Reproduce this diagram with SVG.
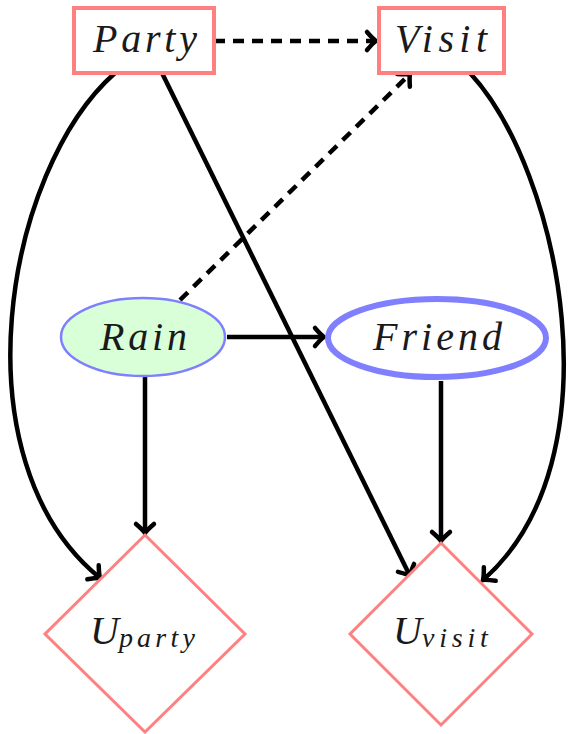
<svg xmlns="http://www.w3.org/2000/svg" width="569" height="734" viewBox="0 0 569 734">
<style>
.t{font-family:"Liberation Serif","DejaVu Serif",serif;font-style:italic;font-size:40px;fill:#1a1a1a}
.s{font-family:"Liberation Serif","DejaVu Serif",serif;font-style:italic;font-size:28px;fill:#1a1a1a}
.box{fill:#fff;stroke:#ff8080;stroke-width:4}
.dia{fill:#fff;stroke:#ff8080;stroke-width:3}
.e{stroke:#000;stroke-width:4.5;fill:none;marker-end:url(#ah)}
.d{stroke-dasharray:11 8}
</style>
<defs>
<marker id="ah" markerUnits="userSpaceOnUse" markerWidth="30" markerHeight="30" refX="0" refY="0" viewBox="-15 -15 30 30" orient="auto" overflow="visible">
<path d="M -9 -9 Q -3 -2 0 0 Q -3 2 -9 9" fill="none" stroke="#000" stroke-width="4.5" stroke-linecap="round"/>
</marker>
</defs>
<g id="edges">
<path class="e d" d="M 214 41 L 376 41"/>
<path class="e d" d="M 180 300 L 410 74"/>
<path class="e" d="M 115 73 C 5 170 -45 460 100 578"/>
<path class="e" d="M 162 73 L 410 576"/>
<path class="e" d="M 470 73 C 560 170 620 460 483 580"/>
<path class="e" d="M 227 337 L 324 337"/>
<path class="e" d="M 145 377 L 145 533"/>
<path class="e" d="M 441 381 L 441 541"/>
</g>
<g id="party">
<rect class="box" x="74" y="8" width="140" height="65"/>
<text class="t" x="93" y="52" textLength="104" lengthAdjust="spacing">Party</text>
</g>
<g id="visit">
<rect class="box" x="379" y="8" width="125" height="65"/>
<text class="t" x="395" y="52" textLength="92" lengthAdjust="spacing">Visit</text>
</g>
<g id="rain">
<ellipse cx="143" cy="337" rx="82" ry="39" fill="#d9ffd9" stroke="#8080ff" stroke-width="2.5"/>
<text class="t" x="100" y="350" textLength="87" lengthAdjust="spacing">Rain</text>
</g>
<g id="friend">
<ellipse cx="437" cy="338" rx="109" ry="39" fill="#fff" stroke="#8080ff" stroke-width="6"/>
<text class="t" x="373" y="350" textLength="129" lengthAdjust="spacing">Friend</text>
</g>
<g id="uparty">
<polygon class="dia" points="145,535 245,634 145,732 45,634"/>
<text x="90" y="644"><tspan class="t">U</tspan><tspan class="s" dy="3" textLength="76" lengthAdjust="spacing">party</tspan></text>
</g>
<g id="uvisit">
<polygon class="dia" points="441,543 532,634 441,725 350,634"/>
<text x="393" y="644"><tspan class="t">U</tspan><tspan class="s" dy="3" textLength="66" lengthAdjust="spacing">visit</tspan></text>
</g>
</svg>
